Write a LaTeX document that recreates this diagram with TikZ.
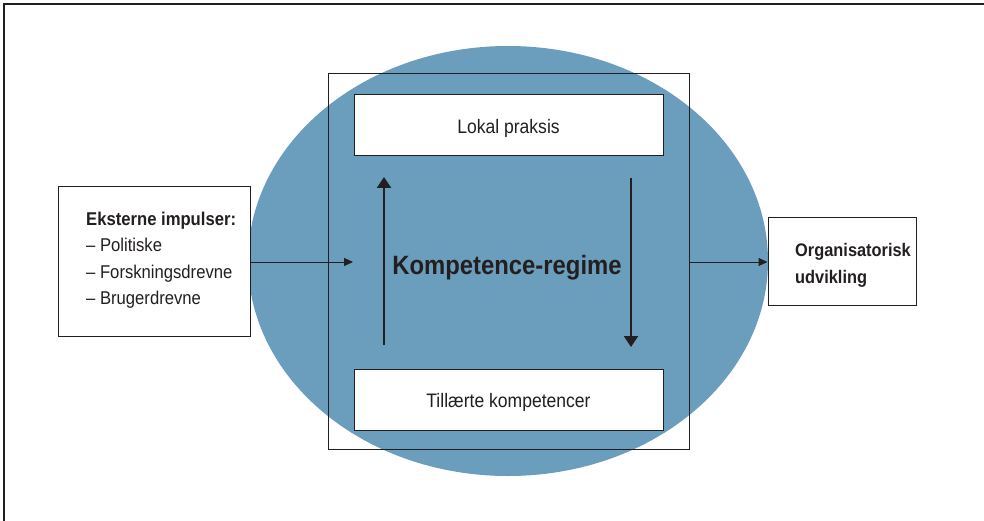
\documentclass[tikz,border=0pt]{standalone}
\usepackage{fontspec}
\setmainfont[FakeStretch=0.9]{Liberation Sans}
\usetikzlibrary{arrows.meta}
\definecolor{ellblue}{RGB}{106,158,188}
\definecolor{ink}{RGB}{35,31,32}
\begin{document}
\begin{tikzpicture}[x=1pt,y=-1pt,
  box/.style={draw=ink, line width=1pt, fill=white, inner sep=0pt},
  boxtext/.style={text=ink, inner sep=0pt, font=\fontsize{19.5}{22}\selectfont},
  thinarrow/.style={draw=ink, line width=1pt, -{Triangle[width=8pt,length=9pt]}},
  thickarrow/.style={draw=ink, line width=2.4pt, -{Triangle[width=14pt,length=11pt]}},
  lbl/.style={text=ink, inner sep=0pt, align=left, font=\fontsize{18.5}{26.5}\selectfont}]
\useasboundingbox (0,0) rectangle (984,521);
\draw[ink, line width=1.3pt] (4,540) -- (4,4) -- (1000,4);
\fill[ellblue] (508,261) ellipse [x radius=260, y radius=215];
\node[draw=ink, line width=0.9pt, minimum width=361pt, minimum height=376pt, inner sep=0pt] (regime) at (508.5,261) {};
\node[box, minimum width=309pt, minimum height=61pt] (lokal) at (508.5,125.5) {};
\node[boxtext] (lokaltext) at (508.5,128.5) {Lokal praksis};
\node[box, minimum width=309pt, minimum height=61pt] (till) at (508.5,399.5) {};
\node[boxtext] (tilltext) at (508.5,402) {Tillærte kompetencer};
\node[text=ink, inner sep=0pt, font=\fontsize{26.5}{30}\selectfont\bfseries] (title) at (507,268) {Kompetence-regime};
\node[box, minimum width=192pt, minimum height=149pt] (ext) at (154,261.5) {};
\node[lbl, anchor=west] (exttext) at (86,260) {\textbf{Eksterne impulser:}\\– Politiske\\– Forskningsdrevne\\– Brugerdrevne};
\node[box, minimum width=148pt, minimum height=87pt] (org) at (842,261.5) {};
\node[lbl, anchor=west, font=\fontsize{18.2}{27}\selectfont\bfseries] (orgtext) at (795,265.5) {Organisatorisk\\udvikling};
\coordinate (inL) at (353,262);
\coordinate (upS) at (384,345);
\coordinate (upE) at (384,177);
\coordinate (dnS) at (631,178);
\coordinate (dnE) at (631,347);
\draw[thinarrow] (ext.east |- inL) -- (inL);
\draw[thinarrow] (regime.east |- inL) -- (org.west |- inL);
\draw[thickarrow] (upS) -- (upE);
\draw[thickarrow] (dnS) -- (dnE);
\end{tikzpicture}
\end{document}
